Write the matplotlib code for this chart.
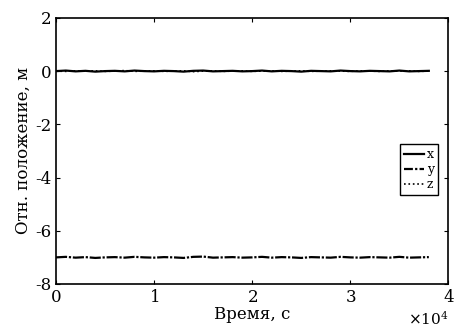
import numpy as np
import matplotlib.pyplot as plt
from matplotlib.ticker import ScalarFormatter

# Время, с
t = np.arange(0, 38001, 1000)

# Отн. положение, м
x_pos = [0.00, 0.02, -0.01, 0.01, -0.02, 0.00, 0.01, -0.01, 0.02, 0.00,
         -0.01, 0.01, 0.00, -0.02, 0.01, 0.02, -0.01, 0.00, 0.01, -0.01,
         0.00, 0.02, -0.01, 0.01, 0.00, -0.02, 0.01, 0.00, -0.01, 0.02,
         0.00, -0.01, 0.01, 0.00, -0.01, 0.02, -0.01, 0.00, 0.01]
y_pos = [-7.00, -6.98, -7.01, -6.99, -7.02, -7.00, -6.99, -7.01, -6.98, -7.00,
         -7.01, -6.99, -7.00, -7.02, -6.98, -6.97, -7.01, -7.00, -6.99, -7.01,
         -7.00, -6.98, -7.01, -6.99, -7.00, -7.02, -6.99, -7.00, -7.01, -6.98,
         -7.00, -7.01, -6.99, -7.00, -7.01, -6.98, -7.01, -7.00, -6.99]
z_pos = [0.00, -0.01, 0.01, 0.00, 0.01, -0.01, 0.00, 0.02, -0.01, 0.00,
         0.01, -0.01, 0.00, 0.01, -0.02, 0.00, 0.01, -0.01, 0.00, 0.01,
         -0.01, 0.00, 0.01, -0.01, 0.00, 0.01, -0.01, 0.00, 0.01, 0.00,
         -0.01, 0.01, 0.00, -0.01, 0.01, 0.00, 0.01, -0.01, 0.00]

plt.rcParams['font.family'] = ['DejaVu Serif']
plt.rcParams['font.size'] = 11
plt.rcParams['axes.unicode_minus'] = False

fig = plt.figure(figsize=(4.59, 3.31), dpi=100)
ax = fig.add_axes([0.122, 0.142, 0.855, 0.804])

ax.plot(t, x_pos, color='black', linewidth=1.6, linestyle='-', label='x')
ax.plot(t, y_pos, color='black', linewidth=1.6, dashes=(5, 0.8, 1, 0.8), label='y')
ax.plot(t, z_pos, color='black', linewidth=1.2, linestyle=':', label='z')

ax.set_xlim(0, 40000)
ax.set_ylim(-8, 2)
ax.set_xticks([0, 10000, 20000, 30000, 40000])
ax.set_yticks([-8, -6, -4, -2, 0, 2])

fmt = ScalarFormatter(useMathText=True)
fmt.set_powerlimits((0, 0))
ax.xaxis.set_major_formatter(fmt)

ax.tick_params(direction='in', top=True, right=True, length=3, labelsize=12)
for s in ax.spines.values():
    s.set_linewidth(1.2)

ax.set_xlabel('Время, с', labelpad=0, fontsize=12)
ax.set_ylabel('Отн. положение, м', labelpad=2, fontsize=12)

leg = ax.legend(loc='center right', bbox_to_anchor=(0.99, 0.43), fontsize=9,
                handlelength=1.6, handletextpad=0.2, borderpad=0.35,
                labelspacing=0.15, fancybox=False, framealpha=1,
                edgecolor='black')
leg.get_frame().set_linewidth(1.0)
for line in leg.get_lines():
    if line.get_label() == 'y':
        line.set_dashes((4, 1, 1, 1))

fig.savefig('out.png', dpi=100)
